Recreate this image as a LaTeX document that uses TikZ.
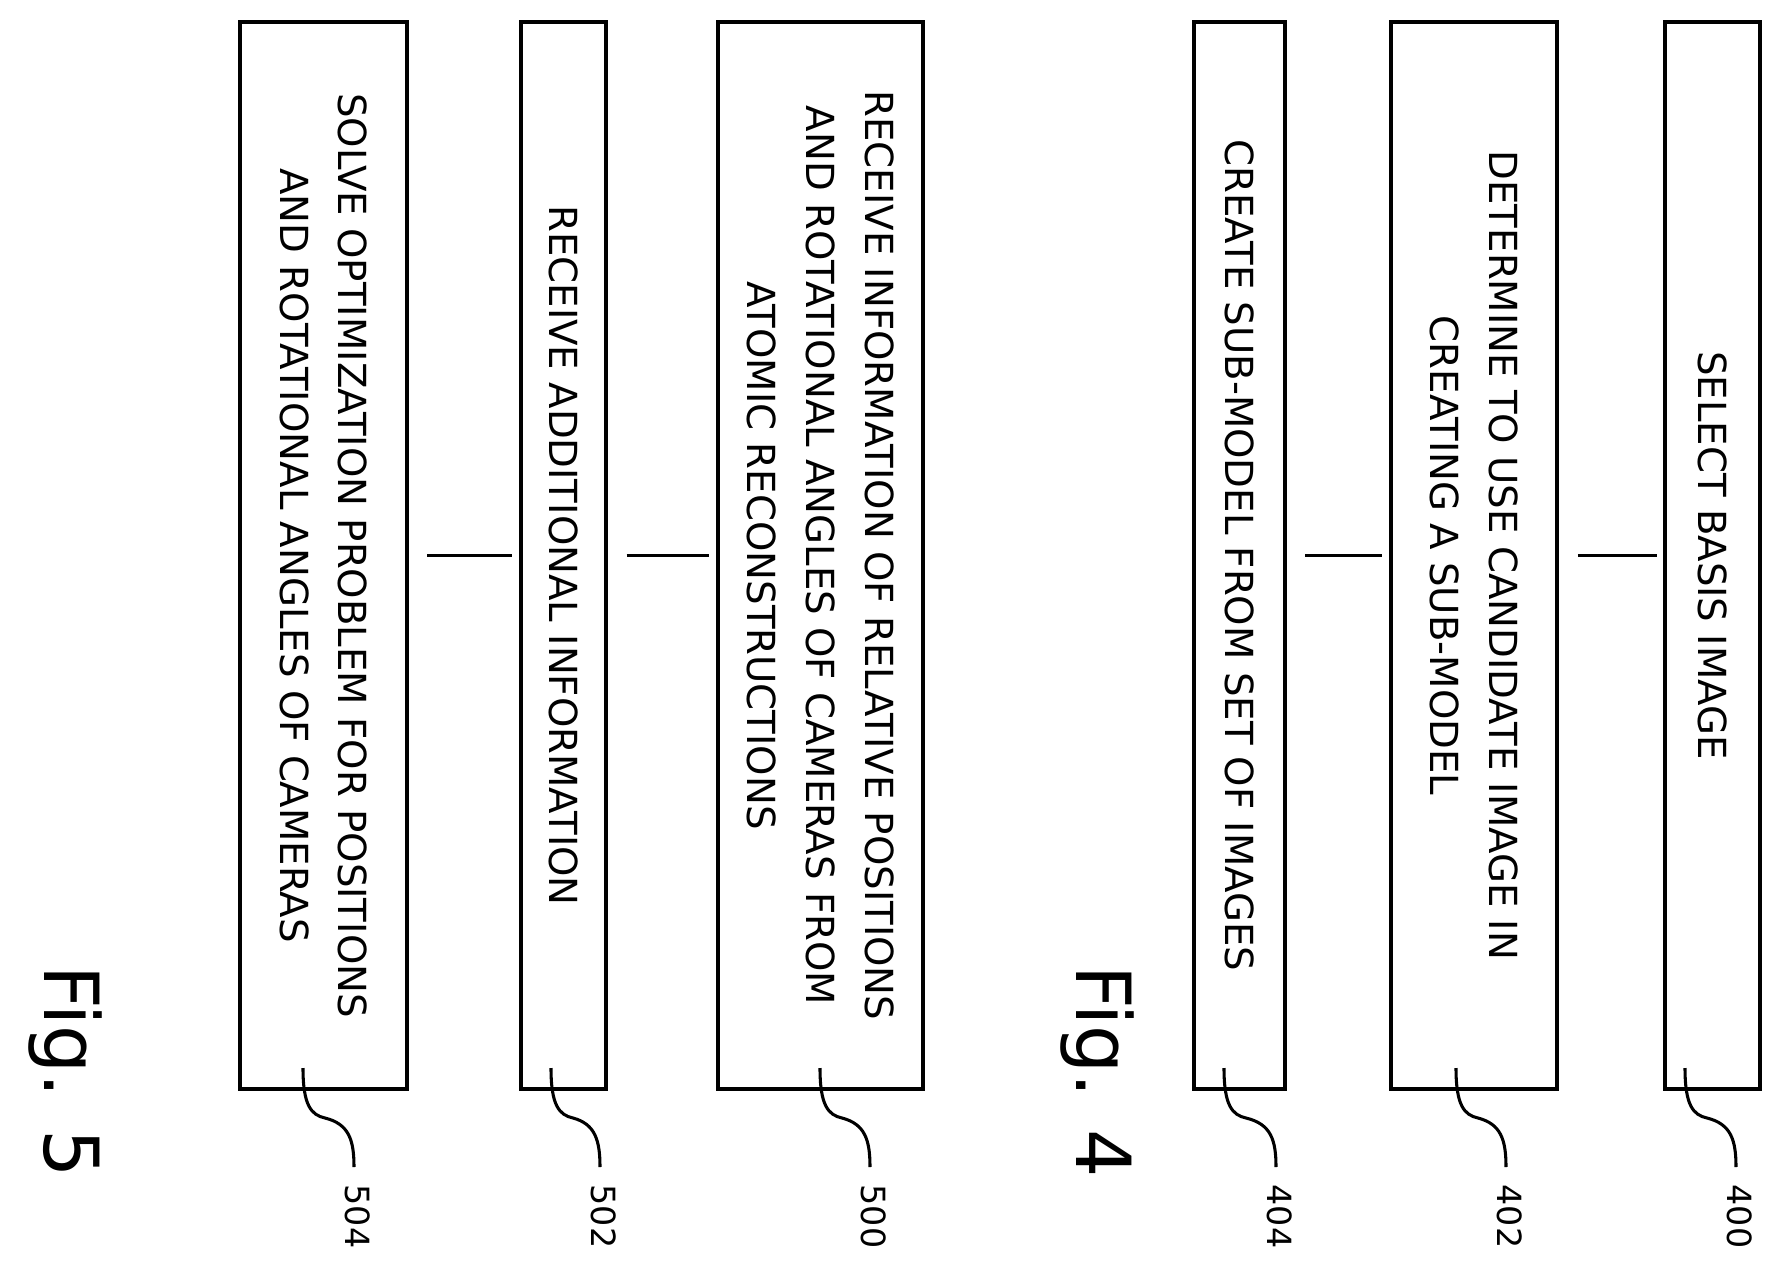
\documentclass[tikz,border=0pt]{standalone}
\usepackage{fontspec}
\setmainfont{DejaVu Sans}
\begin{document}
\begin{tikzpicture}[x=0.75pt,y=-0.75pt,
  box/.style={draw,line width=2.8pt,rotate=-90,minimum width=800pt,align=center,inner sep=0pt,font=\fontsize{29}{44}\selectfont},
  conn/.style={line width=2.6pt},
  lead/.style={line width=2.3pt},
  num/.style={rotate=-90,font=\fontsize{25}{30}\selectfont},
  fig/.style={rotate=-90,font=\fontsize{57}{60}\selectfont}]
\useasboundingbox (0,0) rectangle (1779,1267);
\node[box,minimum height=125pt] (b504) at (323.5,555.5) {SOLVE OPTIMIZATION PROBLEM FOR POSITIONS\\AND ROTATIONAL ANGLES OF CAMERAS};
\node[box,minimum height=64pt] (b502) at (563.5,555.5) {RECEIVE ADDITIONAL INFORMATION};
\node[box,minimum height=154pt] (b500) at (820.5,555.5) {RECEIVE INFORMATION OF RELATIVE POSITIONS\\AND ROTATIONAL ANGLES OF CAMERAS FROM\\ATOMIC RECONSTRUCTIONS};
\node[box,minimum height=68pt] (b404) at (1239.5,555.5) {CREATE SUB-MODEL FROM SET OF IMAGES};
\node[box,minimum height=125pt] (b402) at (1474,555.5) {DETERMINE TO USE CANDIDATE IMAGE IN\\CREATING A SUB-MODEL};
\node[box,minimum height=71pt] (b400) at (1712.5,555.5) {SELECT BASIS IMAGE};
\draw[conn,shorten <=14pt,shorten >=5pt] (b504.north) -- (b502.south);
\draw[conn,shorten <=14pt,shorten >=5pt] (b502.north) -- (b500.south);
\draw[conn,shorten <=14pt,shorten >=5pt] (b404.north) -- (b402.south);
\draw[conn,shorten <=14pt,shorten >=5pt] (b402.north) -- (b400.south);
\node[fig] (f5) at (65,1072) {Fig. 5};
\node[fig] (f4) at (1097,1072) {Fig. 4};
\foreach \n/\s/\e in {504/303/354, 502/551/600, 500/820/870, 404/1224/1276, 402/1456/1506, 400/1685/1736}{
  \coordinate (s\n) at (\s,1068);
  \node[num,anchor=west] (l\n) at (\e+4,1180) {\n};
  \draw[lead] (s\n) .. controls (\s,1105) and (\s+8,1115) .. (\s+22,1118)
     .. controls (\e-5,1124) and (\e,1140) .. (\e,1167);
}
\end{tikzpicture}
\end{document}
